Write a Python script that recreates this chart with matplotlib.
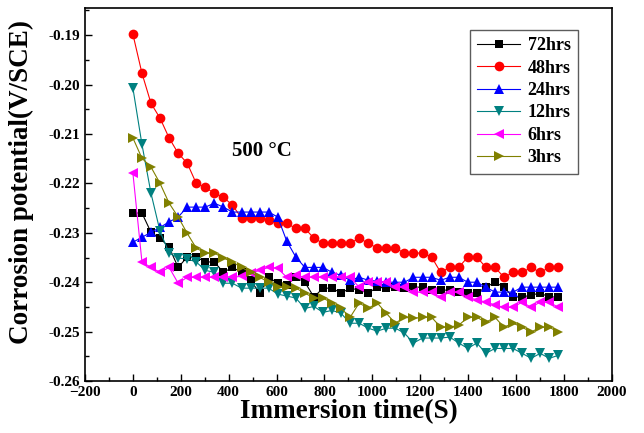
import numpy as np
import matplotlib
matplotlib.use('Agg')
import matplotlib.pyplot as plt
from matplotlib.ticker import MultipleLocator, FormatStrFormatter

plt.rcParams['font.family'] = ['Liberation Serif', 'DejaVu Serif']
plt.rcParams['font.weight'] = 'bold'

# Immersion time (s) for each recorded point
t = np.arange(48) * 37.8

e_72h = [-0.2260, -0.2260, -0.2299, -0.2311, -0.2329, -0.2370, -0.2349, -0.2349, -0.2359, -0.2359,
         -0.2380, -0.2370, -0.2380, -0.2396, -0.2422, -0.2390, -0.2402, -0.2406, -0.2390, -0.2400,
         -0.2430, -0.2412, -0.2412, -0.2422, -0.2412, -0.2416, -0.2422, -0.2410, -0.2412, -0.2410,
         -0.2412, -0.2410, -0.2410, -0.2416, -0.2416, -0.2416, -0.2420, -0.2422, -0.2422, -0.2410,
         -0.2400, -0.2410, -0.2430, -0.2430, -0.2426, -0.2422, -0.2430, -0.2430]
e_48h = [-0.1898, -0.1977, -0.2038, -0.2068, -0.2108, -0.2139, -0.2159, -0.2200, -0.2208, -0.2220,
         -0.2228, -0.2244, -0.2270, -0.2270, -0.2270, -0.2274, -0.2281, -0.2281, -0.2291, -0.2291,
         -0.2311, -0.2321, -0.2321, -0.2321, -0.2321, -0.2311, -0.2321, -0.2331, -0.2331, -0.2331,
         -0.2341, -0.2341, -0.2341, -0.2349, -0.2380, -0.2370, -0.2370, -0.2349, -0.2349, -0.2370,
         -0.2370, -0.2390, -0.2380, -0.2380, -0.2370, -0.2380, -0.2370, -0.2370]
e_24h = [-0.2319, -0.2309, -0.2299, -0.2289, -0.2278, -0.2268, -0.2248, -0.2248, -0.2248, -0.2240,
         -0.2248, -0.2258, -0.2258, -0.2258, -0.2258, -0.2258, -0.2268, -0.2317, -0.2349, -0.2370,
         -0.2370, -0.2370, -0.2380, -0.2386, -0.2396, -0.2390, -0.2396, -0.2398, -0.2400, -0.2400,
         -0.2400, -0.2390, -0.2390, -0.2390, -0.2396, -0.2390, -0.2390, -0.2400, -0.2400, -0.2410,
         -0.2420, -0.2420, -0.2420, -0.2410, -0.2410, -0.2410, -0.2410, -0.2410]
e_12h = [-0.2007, -0.2121, -0.2220, -0.2297, -0.2341, -0.2351, -0.2353, -0.2359, -0.2376, -0.2380,
         -0.2402, -0.2402, -0.2412, -0.2412, -0.2412, -0.2412, -0.2424, -0.2428, -0.2432, -0.2453,
         -0.2449, -0.2461, -0.2457, -0.2463, -0.2483, -0.2483, -0.2493, -0.2499, -0.2493, -0.2493,
         -0.2503, -0.2523, -0.2513, -0.2513, -0.2513, -0.2511, -0.2523, -0.2534, -0.2523, -0.2544,
         -0.2534, -0.2534, -0.2534, -0.2544, -0.2554, -0.2544, -0.2554, -0.2548]
e_6h = [-0.2179, -0.2359, -0.2370, -0.2380, -0.2370, -0.2402, -0.2390, -0.2390, -0.2390, -0.2390,
        -0.2390, -0.2390, -0.2388, -0.2382, -0.2376, -0.2370, -0.2372, -0.2390, -0.2386, -0.2390,
        -0.2390, -0.2390, -0.2390, -0.2390, -0.2390, -0.2410, -0.2400, -0.2400, -0.2400, -0.2410,
        -0.2410, -0.2420, -0.2420, -0.2420, -0.2430, -0.2420, -0.2420, -0.2430, -0.2436, -0.2440,
        -0.2446, -0.2451, -0.2451, -0.2440, -0.2451, -0.2440, -0.2440, -0.2451]
e_3h = [-0.2108, -0.2149, -0.2167, -0.2200, -0.2240, -0.2268, -0.2301, -0.2331, -0.2341, -0.2341,
        -0.2351, -0.2359, -0.2370, -0.2380, -0.2390, -0.2400, -0.2410, -0.2410, -0.2412, -0.2422,
        -0.2432, -0.2432, -0.2442, -0.2453, -0.2471, -0.2442, -0.2453, -0.2442, -0.2463, -0.2483,
        -0.2471, -0.2473, -0.2471, -0.2471, -0.2491, -0.2491, -0.2487, -0.2471, -0.2471, -0.2481,
        -0.2471, -0.2491, -0.2483, -0.2491, -0.2501, -0.2491, -0.2491, -0.2501]

labels = ['72hrs', '48hrs', '24hrs', '12hrs', '6hrs', '3hrs']
series = [e_72h, e_48h, e_24h, e_12h, e_6h, e_3h]
colors = ['black', 'red', 'blue', '#008080', 'magenta', '#808000']
markers = ['s', 'o', '^', 'v', '<', '>']
msizes = [6.0, 7.0, 7.5, 7.5, 7.5, 7.5]

fig = plt.figure(figsize=(6.44, 4.33), dpi=100)
ax = fig.add_axes([0.132, 0.12, 0.818, 0.8615])

for y, lab, c, m, ms in zip(series, labels, colors, markers, msizes):
    ax.plot(t, y, color=c, marker=m, markersize=ms, linewidth=0.8,
            markeredgewidth=0, label=lab)

ax.set_xlim(-200, 2000)
ax.set_ylim(-0.26, -0.1845)
ax.xaxis.set_major_locator(MultipleLocator(200))
ax.xaxis.set_minor_locator(MultipleLocator(100))
ax.yaxis.set_major_locator(MultipleLocator(0.01))
ax.yaxis.set_minor_locator(MultipleLocator(0.005))
ax.yaxis.set_major_formatter(FormatStrFormatter('%.2f'))
ax.tick_params(which='both', direction='in', top=False, right=False, labelsize=11)
ax.tick_params(which='major', length=5, width=1)
ax.tick_params(which='minor', length=3, width=1)
for s in ax.spines.values():
    s.set_linewidth(1.2)

ax.set_xlabel('Immersion time(S)', fontsize=19.5, fontweight='bold', labelpad=0)
ax.set_ylabel('Corrosion potential(V/SCE)', fontsize=19.5, fontweight='bold')
ax.yaxis.set_label_coords(-0.097, 0.533)

ax.text(413, -0.2145, '500 °C', fontsize=15, fontweight='bold')

leg = ax.legend(loc='upper right', bbox_to_anchor=(0.9355, 0.941), borderaxespad=0,
                fontsize=13, fancybox=False, edgecolor='#333333', handlelength=2.4,
                labelspacing=0.3, borderpad=0.4, handletextpad=0.4)
leg.get_frame().set_linewidth(1.0)

fig.savefig('out.png', dpi=100)
